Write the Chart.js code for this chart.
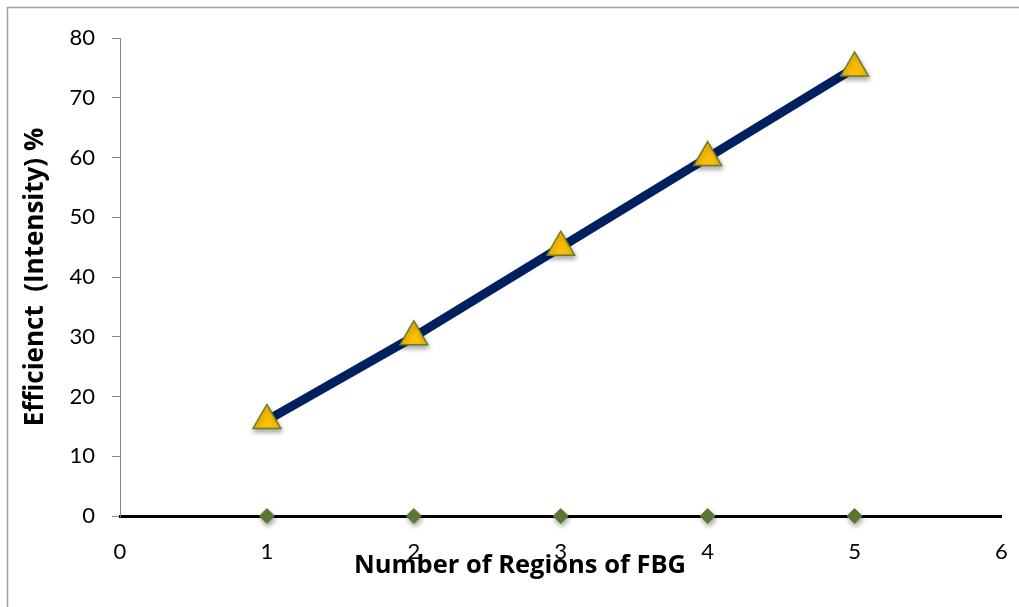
<!DOCTYPE html>
<html>
<head>
<meta charset="utf-8">
<script src="https://cdn.jsdelivr.net/npm/chart.js@4"></script>
<style>
  html, body { margin: 0; padding: 0; background: #fff; }
  #wrap { width: 1019px; height: 607px; position: relative; }
</style>
</head>
<body>
<div id="wrap"><canvas id="c" width="1019" height="607"></canvas></div>
<script>
const regions = [1, 2, 3, 4, 5];
const efficiency = [16, 30, 45, 60, 75];
const baseline = [0, 0, 0, 0, 0];
const xTicks = [0, 1, 2, 3, 4, 5, 6];
const yTicks = [0, 10, 20, 30, 40, 50, 60, 70, 80];
const yTitle = 'Efficienct  (Intensity) %';
const xTitle = 'Number of Regions of FBG';

const TICK_FONT = "Lato, 'Open Sans', sans-serif";
const TITLE_FONT = "'Open Sans', Lato, sans-serif";

const framePlugin = {
  id: 'frame',
  beforeDraw(chart) {
    const ctx = chart.ctx;
    ctx.save();
    ctx.strokeStyle = '#a0a0a0';
    ctx.lineWidth = 1.5;
    ctx.beginPath();
    ctx.moveTo(7.5, chart.height);
    ctx.lineTo(7.5, 7.5);
    ctx.lineTo(chart.width, 7.5);
    ctx.stroke();
    ctx.restore();
  },
  afterDraw(chart) {
    const ctx = chart.ctx;
    ctx.save();
    ctx.fillStyle = '#000';
    ctx.font = "bold 25.5px " + TITLE_FONT;
    ctx.textAlign = 'center';
    ctx.textBaseline = 'middle';
    ctx.fillText(xTitle, 520, 566);
    ctx.restore();
  }
};

const shadowPlugin = {
  id: 'shadow',
  beforeDatasetDraw(chart, args) {
    const ctx = chart.ctx;
    ctx.save();
    if (args.index !== 1) {
      ctx.shadowColor = 'rgba(0,0,0,0.35)';
      ctx.shadowBlur = 5;
      ctx.shadowOffsetX = 1;
      ctx.shadowOffsetY = 3;
    }
  },
  afterDatasetDraw(chart) {
    chart.ctx.restore();
  }
};

new Chart(document.getElementById('c'), {
  type: 'line',
  data: {
    datasets: [
      {
        label: 'baseline',
        order: 2,
        data: regions.map((x, i) => ({ x: x, y: baseline[i] })),
        showLine: false,
        clip: false,
        pointStyle: 'rectRot',
        pointRadius: 7.5,
        pointBackgroundColor: '#5f7a36',
        pointBorderColor: '#5f7a36',
        pointBorderWidth: 1,
        borderColor: '#000'
      },
      {
        label: 'efficiency line',
        order: 1,
        data: regions.map((x, i) => ({ x: x, y: efficiency[i] })),
        borderColor: '#002060',
        borderWidth: 9,
        pointRadius: 0,
        tension: 0,
        clip: false
      },
      {
        label: 'efficiency',
        order: 0,
        data: regions.map((x, i) => ({ x: x, y: efficiency[i] })),
        showLine: false,
        clip: false,
        pointStyle: 'triangle',
        pointRadius: 16,
        pointBackgroundColor: '#ffc000',
        pointBorderColor: '#6b7a2e',
        pointBorderWidth: 1.5
      }
    ]
  },
  options: {
    responsive: false,
    animation: false,
    events: [],
    layout: { padding: { top: 38, right: 16, left: 0, bottom: 0 } },
    plugins: {
      legend: { display: false },
      tooltip: { enabled: false }
    },
    scales: {
      x: {
        type: 'linear',
        min: 0,
        max: 6,
        afterFit(s) { s.height = 91; s.paddingRight = 0; s.paddingLeft = 0; },
        afterBuildTicks(s) { s.ticks = xTicks.map(v => ({ value: v })); },
        grid: { display: false, drawTicks: false },
        border: { display: true, color: '#000', width: 3 },
        ticks: {
          padding: 23,
          color: '#000',
          font: { family: TICK_FONT, size: 22 },
          maxRotation: 0
        }
      },
      y: {
        min: 0,
        max: 80,
        afterFit(s) { s.width = 120; s.paddingTop = 0; s.paddingBottom = 0; },
        afterBuildTicks(s) { s.ticks = yTicks.map(v => ({ value: v })); },
        grid: { drawOnChartArea: false, color: '#868686', tickLength: 8, lineWidth: 1 },
        border: { display: true, color: '#868686', width: 1 },
        ticks: {
          padding: 17,
          color: '#000',
          font: { family: TICK_FONT, size: 22 }
        },
        title: {
          display: true,
          text: yTitle,
          color: '#000',
          font: { family: TITLE_FONT, size: 26, weight: 'bold' },
          padding: { top: 20, bottom: 0 }
        }
      }
    }
  },
  plugins: [framePlugin, shadowPlugin]
});
</script>
</body>
</html>
